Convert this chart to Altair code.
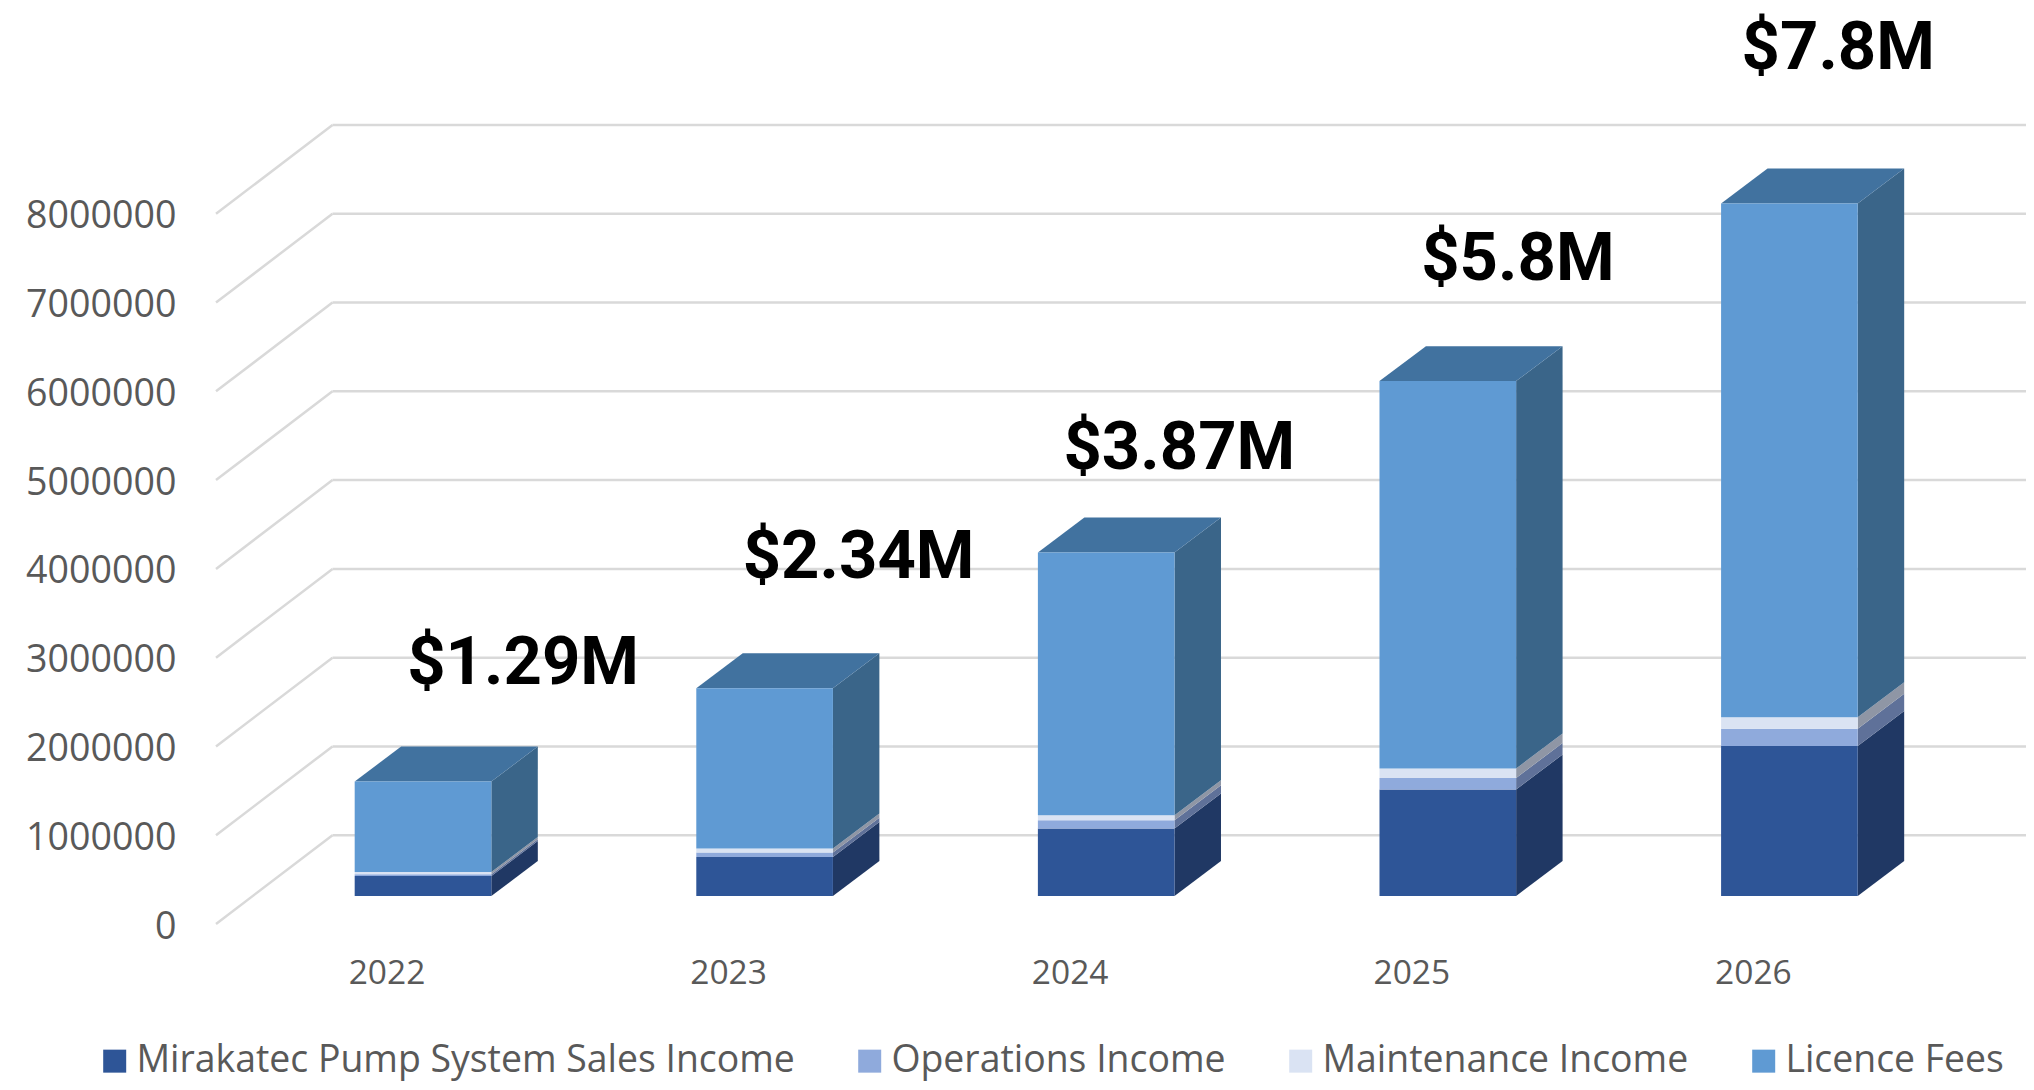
import altair as alt
import pandas as pd

years = [2022, 2023, 2024, 2025, 2026]
series = ["Mirakatec Pump System Sales Income", "Operations Income", "Maintenance Income", "Licence Fees"]
sales = [225000, 440000, 760000, 1200000, 1690000]
operations = [20000, 49000, 94000, 130000, 195000]
maintenance = [25000, 47000, 56000, 106000, 128000]
licence = [1020000, 1804000, 2960000, 4364000, 5787000]
labels = ["$1.29M", "$2.34M", "$3.87M", "$5.8M", "$7.8M"]
ticks = [0, 1000000, 2000000, 3000000, 4000000, 5000000, 6000000, 7000000, 8000000]

front_colors = ["#2E5597", "#8FAADC", "#DAE3F3", "#5F9AD3"]
side_colors = ["#203864", "#5F7199", "#8F96A5", "#3A6589"]
top_color = "#41729F"
grid_color = "#D9D9D9"
text_color = "#595959"

# 3D projection, in data units
wall_dx, wall_dy = 0.341, 1000000
bar_dx, bar_dy = 0.136, 394000
bar_shift_x, bar_width, bar_base = 0.104, 0.40, 315000
x_min = 2022 - 0.502
W, H = 1810, 799
x_max = x_min + W / 341.6
label_dx = [0.293, 0.275, 0.214, 0.205, 0.143]
label_dy = [1324000, 1470000, 1166000, 1369000, 1740000]

x_scale = alt.Scale(domain=[x_min, x_max], nice=False, zero=False)
y_scale = alt.Scale(domain=[0, 9000000], nice=False, zero=False)

fronts, sides, tops, texts = [], [], [], []
values = [sales, operations, maintenance, licence]
for i, y in enumerate(years):
    center = y + bar_shift_x
    left = center - bar_width / 2
    right = center + bar_width / 2
    v0 = bar_base
    for s, name in enumerate(series):
        v1 = v0 + values[s][i]
        fronts.append(dict(x=left, x2=right, y=v0, y2=v1, series=name))
        for t in (0, 1):
            sides.append(dict(seg=f"{y}-{s}", x=right + t * bar_dx, y=v0 + t * bar_dy,
                              y2=v1 + t * bar_dy, c=side_colors[s]))
        v0 = v1
    for t in (0, 1):
        tops.append(dict(seg=str(y), x=left + t * bar_dx, x2=right + t * bar_dx, y=v0 + t * bar_dy))
    texts.append(dict(x=center + label_dx[i], y=v0 + label_dy[i], t=labels[i]))

back = pd.DataFrame([dict(x=x_min + wall_dx, x2=x_max, y=v + wall_dy) for v in ticks])
diag = pd.DataFrame([dict(seg=v, x=x_min + t * wall_dx, y=v + t * wall_dy) for v in ticks for t in (0, 1)])

X = alt.X("x:Q", scale=x_scale, title=None,
          axis=alt.Axis(values=years, format="d", grid=False, domain=False, ticks=False,
                        labelFont="Open Sans", labelFontSize=33.5, labelColor=text_color,
                        labelPadding=49, labelOffset=-1, labelBaseline="middle"))
Y = alt.Y("y:Q", scale=y_scale, title=None, stack=None,
          axis=alt.Axis(values=ticks, format="d", grid=False, domain=False, ticks=False,
                        labelFont="Open Sans", labelFontSize=37.6, labelColor=text_color,
                        labelPadding=40, labelOffset=3, labelBaseline="middle"))

g1 = alt.Chart(back).mark_rule(color=grid_color, strokeWidth=2.5).encode(x=X, x2="x2:Q", y=Y)
g2 = alt.Chart(diag).mark_line(color=grid_color, strokeWidth=2.5).encode(x=X, y=Y, detail="seg:N")

f = alt.Chart(pd.DataFrame(fronts)).mark_bar().encode(
    x=X, x2="x2:Q", y=Y, y2="y2:Q",
    color=alt.Color("series:N", scale=alt.Scale(domain=series, range=front_colors),
                    sort=series, title=None,
                    legend=alt.Legend(orient="none", legendX=-120, legendY=917, direction="horizontal",
                                      columns=4, symbolType="square", symbolSize=529, symbolStrokeWidth=0,
                                      labelFont="Open Sans", labelFontSize=37.4, labelColor=text_color,
                                      labelLimit=1000, labelOffset=3, columnPadding=56, padding=0)))
s = alt.Chart(pd.DataFrame(sides)).mark_area().encode(
    x=X, y=Y, y2="y2:Q", detail="seg:N", color=alt.Color("c:N", scale=None))
t = alt.Chart(pd.DataFrame(tops)).mark_area(orient="horizontal", color=top_color).encode(
    x=X, x2="x2:Q", y=Y, detail="seg:N")
lab = alt.Chart(pd.DataFrame(texts)).mark_text(font="Roboto", fontWeight="bold", fontSize=67,
                                               color="black", baseline="middle", align="center").encode(
    x=X, y=Y, text="t:N")

chart = alt.layer(g1, g2, s, t, f, lab).resolve_scale(color="independent").properties(
    width=W, height=H, background="white",
    padding={"left": 208, "top": 117, "right": 0, "bottom": 158},
    autosize=alt.AutoSizeParams(type="none"),
).configure_view(stroke=None)

chart.save("out.html", embed_options={"renderer": "svg", "actions": False})
